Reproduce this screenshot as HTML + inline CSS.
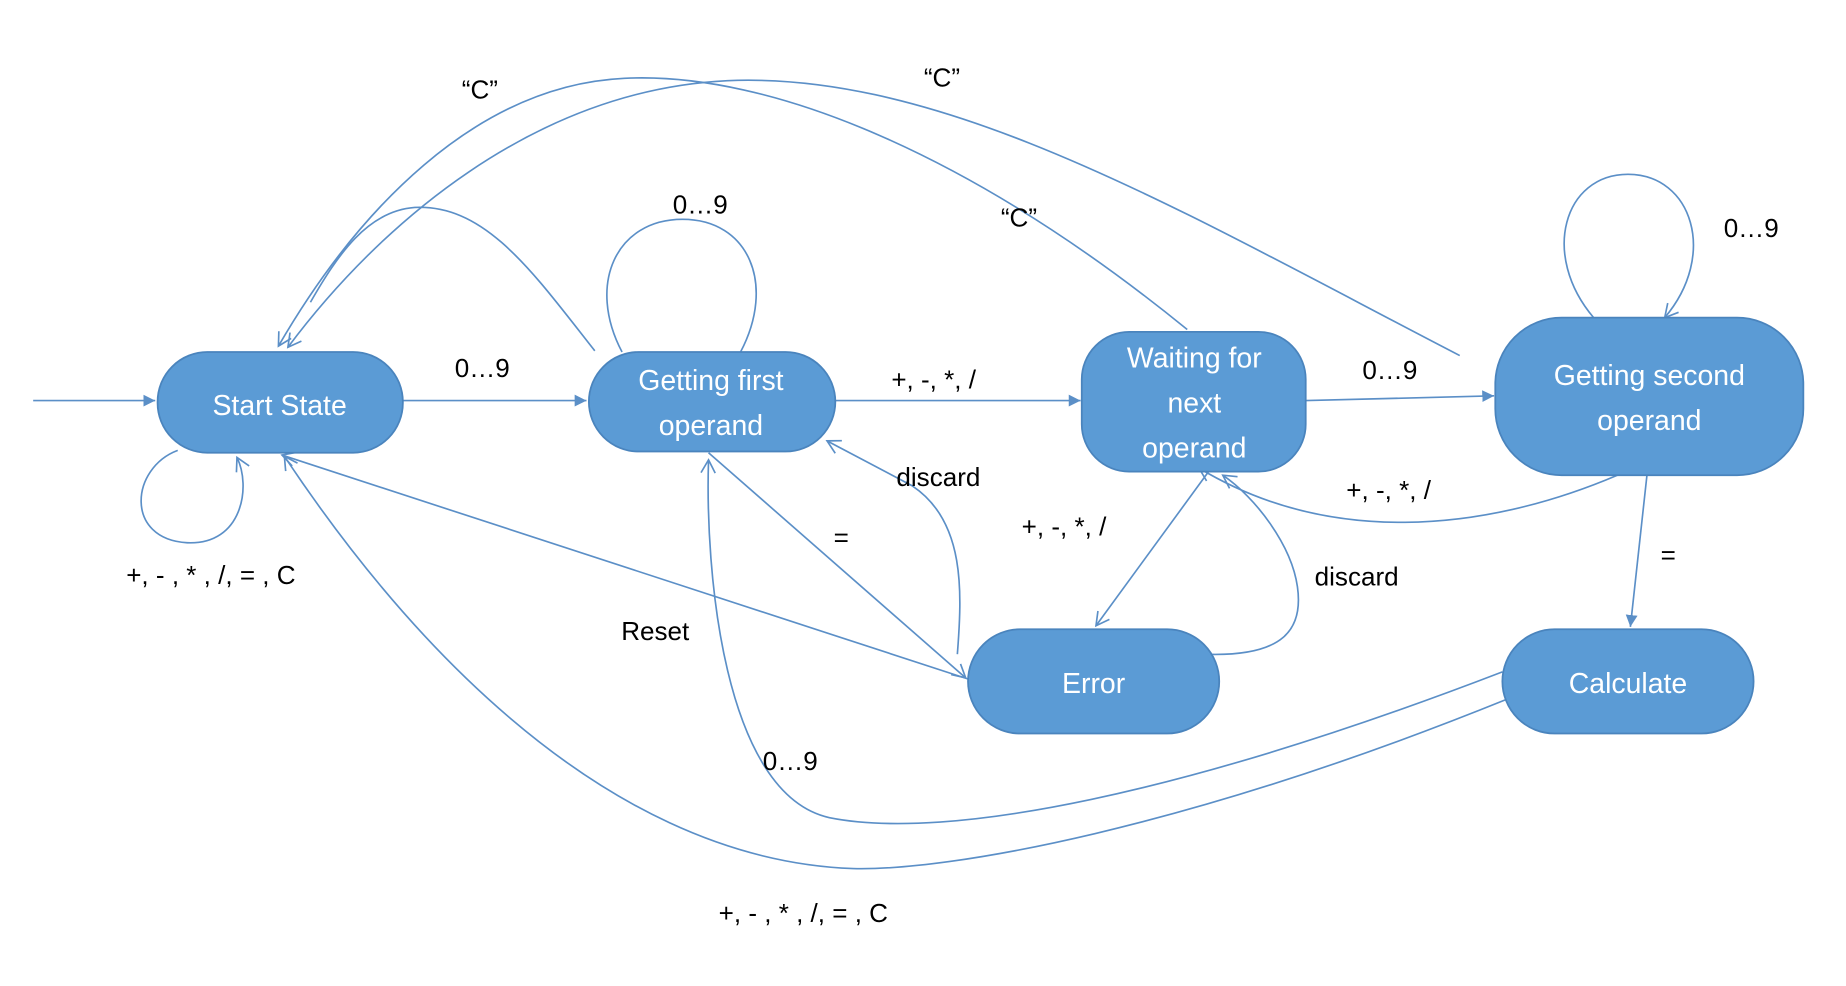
<!DOCTYPE html>
<html><head><meta charset="utf-8"><style>
html,body{margin:0;padding:0;background:#fff;}
svg{display:block;}
.n{fill:#5b9bd5;stroke:#4a84bd;stroke-width:1.5;}
.t{fill:#fff;font-family:"Liberation Sans",sans-serif;font-size:24px;text-anchor:middle;}
.l{fill:#000;font-family:"Liberation Sans",sans-serif;font-size:22px;text-anchor:middle;}
.e{fill:none;stroke:#5b8fc7;stroke-width:1.4;}
</style></head><body>
<svg width="1846" height="986" viewBox="0 0 1558 832" xmlns="http://www.w3.org/2000/svg">
<defs>
<marker id="a" markerWidth="14" markerHeight="14" refX="12" refY="7" orient="auto" markerUnits="userSpaceOnUse">
<path d="M1,1 L12,7 L1,13" fill="none" stroke="#5b8fc7" stroke-width="1.4"/></marker>
<marker id="f" markerWidth="12" markerHeight="12" refX="10" refY="6" orient="auto" markerUnits="userSpaceOnUse">
<path d="M0,1 L10,6 L0,11 z" fill="#5b8fc7"/></marker>
</defs>
<!-- edges -->
<line class="e" x1="28" y1="338" x2="131" y2="338" marker-end="url(#f)"/>
<line class="e" x1="340" y1="338" x2="495" y2="338" marker-end="url(#f)"/>
<line class="e" x1="705" y1="338" x2="912" y2="338" marker-end="url(#f)"/>
<line class="e" x1="1102" y1="338" x2="1261" y2="334" marker-end="url(#f)"/>
<path class="e" d="M150,380 C110,395 105,455 158,458 C205,460 212,410 200,386" marker-end="url(#a)"/>
<path class="e" d="M525,297 C495,240 520,185 576,185 C632,185 655,240 625,297"/>
<path class="e" d="M1345,268 C1300,215 1320,147 1374,147 C1428,147 1450,215 1405,268" marker-end="url(#a)"/>
<path class="e" d="M1365,401 C1250,450 1120,460 1012,395" marker-end="url(#a)"/>
<line class="e" x1="1020" y1="398" x2="925" y2="528" marker-end="url(#a)"/>
<line class="e" x1="1390" y1="401" x2="1376" y2="529" marker-end="url(#f)"/>
<path class="e" d="M1015,552 C1085,555 1100,530 1095,495 C1090,460 1060,420 1032,401" marker-end="url(#a)"/>
<line class="e" x1="598" y1="382" x2="815" y2="572" marker-end="url(#a)"/>
<path class="e" d="M808,552 C812,500 815,440 770,410 L698,372" marker-end="url(#a)"/>
<line class="e" x1="817" y1="573" x2="238" y2="384" marker-end="url(#a)"/>
<path class="e" d="M1268,567 C1000,670 800,710 700,690 C610,670 595,480 598,388" marker-end="url(#a)"/>
<path class="e" d="M1272,590 C1000,700 800,735 720,733 C500,725 330,520 240,385" marker-end="url(#a)"/>
<path class="e" d="M1002,278 C820,130 650,60 527,66 C400,72 300,180 235,292" marker-end="url(#a)"/>
<path class="e" d="M1232,300 C1000,180 800,60 614,68 C450,76 320,190 243,293" marker-end="url(#a)"/>
<path class="e" d="M502,296 C450,230 410,172 350,175 C310,178 285,215 262,255"/>
<!-- nodes -->
<rect class="n" x="133" y="297" width="207" height="85" rx="42"/>
<text class="t" x="236" y="350">Start State</text>
<rect class="n" x="497" y="297" width="208" height="84" rx="42"/>
<text class="t" x="600" y="329">Getting first</text>
<text class="t" x="600" y="367">operand</text>
<rect class="n" x="913" y="280" width="189" height="118" rx="40"/>
<text class="t" x="1008" y="310">Waiting for</text>
<text class="t" x="1008" y="348">next</text>
<text class="t" x="1008" y="386">operand</text>
<rect class="n" x="1262" y="268" width="260" height="133" rx="56"/>
<text class="t" x="1392" y="325">Getting second</text>
<text class="t" x="1392" y="363">operand</text>
<rect class="n" x="817" y="531" width="212" height="88" rx="44"/>
<text class="t" x="923" y="585">Error</text>
<rect class="n" x="1268" y="531" width="212" height="88" rx="44"/>
<text class="t" x="1374" y="585">Calculate</text>
<!-- labels -->
<text class="l" x="407" y="318">0…9</text>
<text class="l" x="788" y="328">+, -, *, /</text>
<text class="l" x="1173" y="320">0…9</text>
<text class="l" x="591" y="180">0…9</text>
<text class="l" x="1478" y="200">0…9</text>
<text class="l" x="178" y="493">+, - , * , /, = , C</text>
<text class="l" x="1172" y="421">+, -, *, /</text>
<text class="l" x="898" y="452">+, -, *, /</text>
<text class="l" x="1145" y="494">discard</text>
<text class="l" x="792" y="410">discard</text>
<text class="l" x="710" y="461">=</text>
<text class="l" x="1408" y="476">=</text>
<text class="l" x="553" y="540">Reset</text>
<text class="l" x="667" y="650">0…9</text>
<text class="l" x="678" y="778">+, - , * , /, = , C</text>
<text class="l" x="405" y="83">“C”</text>
<text class="l" x="795" y="73">“C”</text>
<text class="l" x="860" y="191">“C”</text>
</svg>
</body></html>
